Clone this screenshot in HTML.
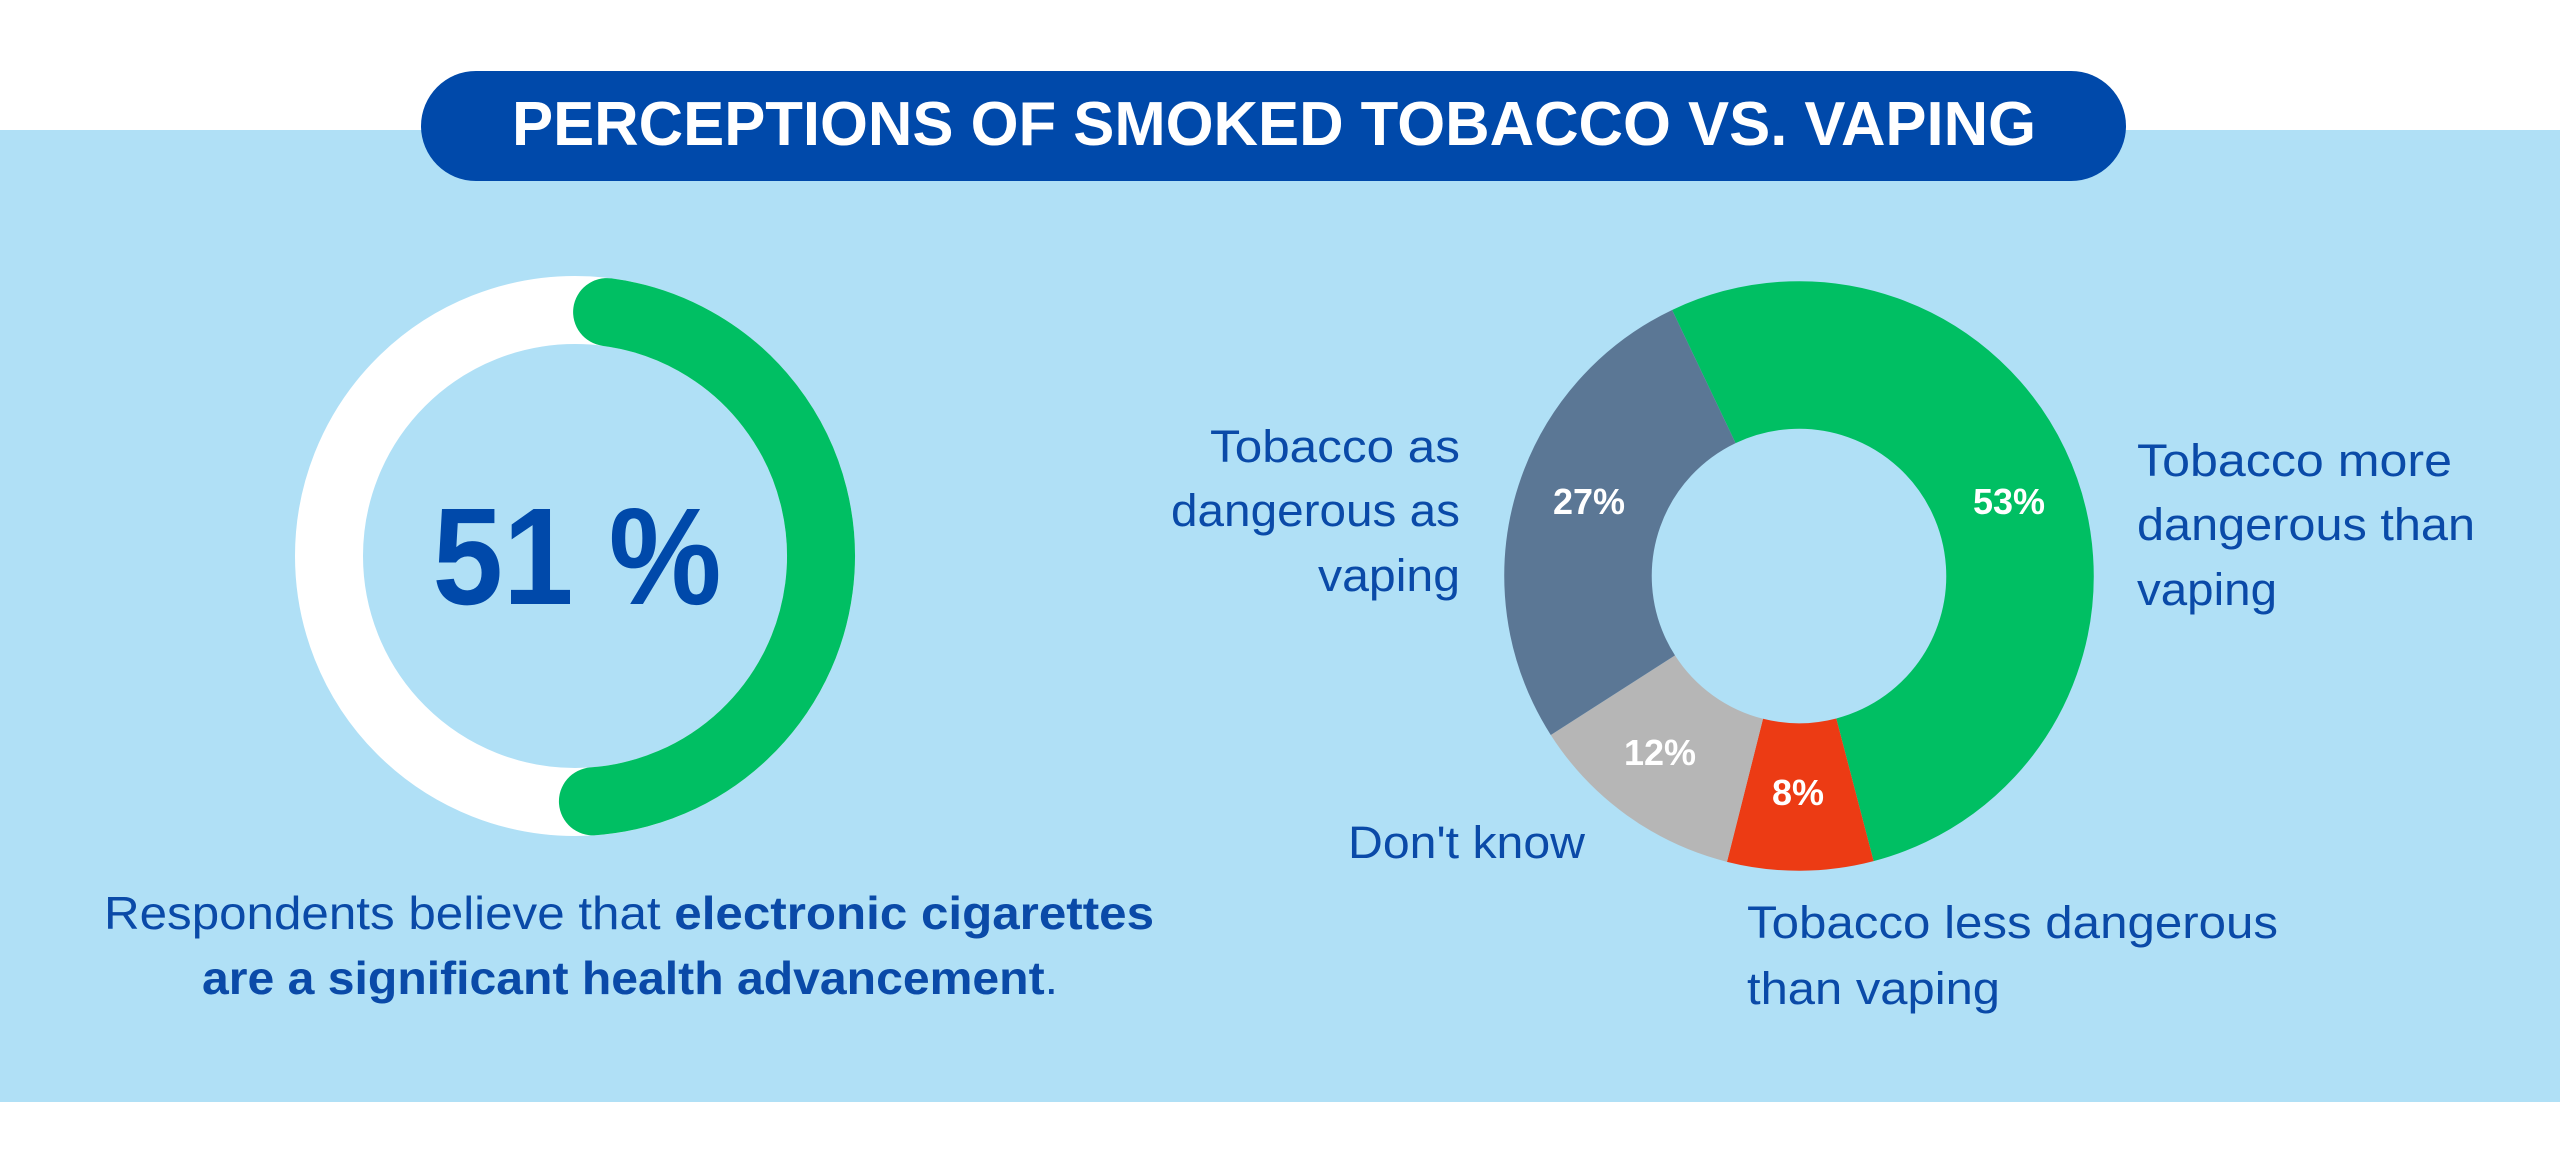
<!DOCTYPE html>
<html><head><meta charset="utf-8"><style>
html,body{margin:0;padding:0;background:#fff;}
svg{display:block;}
text{font-family:"Liberation Sans",sans-serif;}
</style></head><body>
<svg width="2560" height="1164" viewBox="0 0 2560 1164" xmlns="http://www.w3.org/2000/svg">
<rect x="0" y="0" width="2560" height="1164" fill="#ffffff"/>
<rect x="0" y="130" width="2560" height="972" fill="#b0e0f6"/>
<rect x="421" y="71" width="1705" height="110" rx="55" fill="#0049aa"/>
<text x="512" y="145" font-size="62" font-weight="bold" fill="#fff" textLength="1524" lengthAdjust="spacingAndGlyphs">PERCEPTIONS OF SMOKED TOBACCO VS. VAPING</text>

<!-- left ring -->
<circle cx="575" cy="556" r="246" fill="none" stroke="#ffffff" stroke-width="68"/>
<circle cx="575" cy="556" r="246" fill="none" stroke="#00bf63" stroke-width="68" stroke-linecap="round" stroke-dasharray="722.6 2000" transform="rotate(-82.5 575 556)"/>
<text x="577" y="604" font-size="138" font-weight="bold" fill="#0049aa" text-anchor="middle" textLength="289" lengthAdjust="spacingAndGlyphs">51 %</text>

<text x="104" y="929" font-size="46" fill="#0a4aa8" textLength="1050" lengthAdjust="spacingAndGlyphs">Respondents believe that <tspan font-weight="bold">electronic cigarettes</tspan></text>
<text x="202" y="994" font-size="46" fill="#0a4aa8" textLength="856" lengthAdjust="spacingAndGlyphs"><tspan font-weight="bold">are a significant health advancement</tspan>.</text>

<!-- donut -->
<g transform="rotate(-115.5 1799 576)" fill="none" stroke-width="147.5">
<circle cx="1799" cy="576" r="221" stroke="#00bf63" stroke-dasharray="735.9 2000"/>
<circle cx="1799" cy="576" r="221" stroke="#ec3b14" stroke-dasharray="111.1 2000" stroke-dashoffset="-735.9"/>
<circle cx="1799" cy="576" r="221" stroke="#b6b6b6" stroke-dasharray="166.6 2000" stroke-dashoffset="-847"/>
<circle cx="1799" cy="576" r="221" stroke="#5b7795" stroke-dasharray="375.0 2000" stroke-dashoffset="-1013.6"/>
</g>
<g font-size="36" font-weight="bold" fill="#fff" text-anchor="middle">
<text x="1589" y="514">27%</text>
<text x="2009" y="514">53%</text>
<text x="1660" y="765">12%</text>
<text x="1798" y="805">8%</text>
</g>
<g font-size="45" fill="#0a4aa8" lengthAdjust="spacingAndGlyphs">
<text x="1210" y="462" textLength="250" lengthAdjust="spacingAndGlyphs">Tobacco as</text>
<text x="1171" y="526" textLength="289" lengthAdjust="spacingAndGlyphs">dangerous as</text>
<text x="1318" y="591" textLength="142" lengthAdjust="spacingAndGlyphs">vaping</text>
<text x="1348" y="858" textLength="237" lengthAdjust="spacingAndGlyphs">Don't know</text>
<text x="2137" y="476" textLength="315" lengthAdjust="spacingAndGlyphs">Tobacco more</text>
<text x="2137" y="540" textLength="338" lengthAdjust="spacingAndGlyphs">dangerous than</text>
<text x="2137" y="605" textLength="140" lengthAdjust="spacingAndGlyphs">vaping</text>
<text x="1747" y="938" textLength="531" lengthAdjust="spacingAndGlyphs">Tobacco less dangerous</text>
<text x="1747" y="1004" textLength="253" lengthAdjust="spacingAndGlyphs">than vaping</text>
</g>
</svg>
</body></html>
